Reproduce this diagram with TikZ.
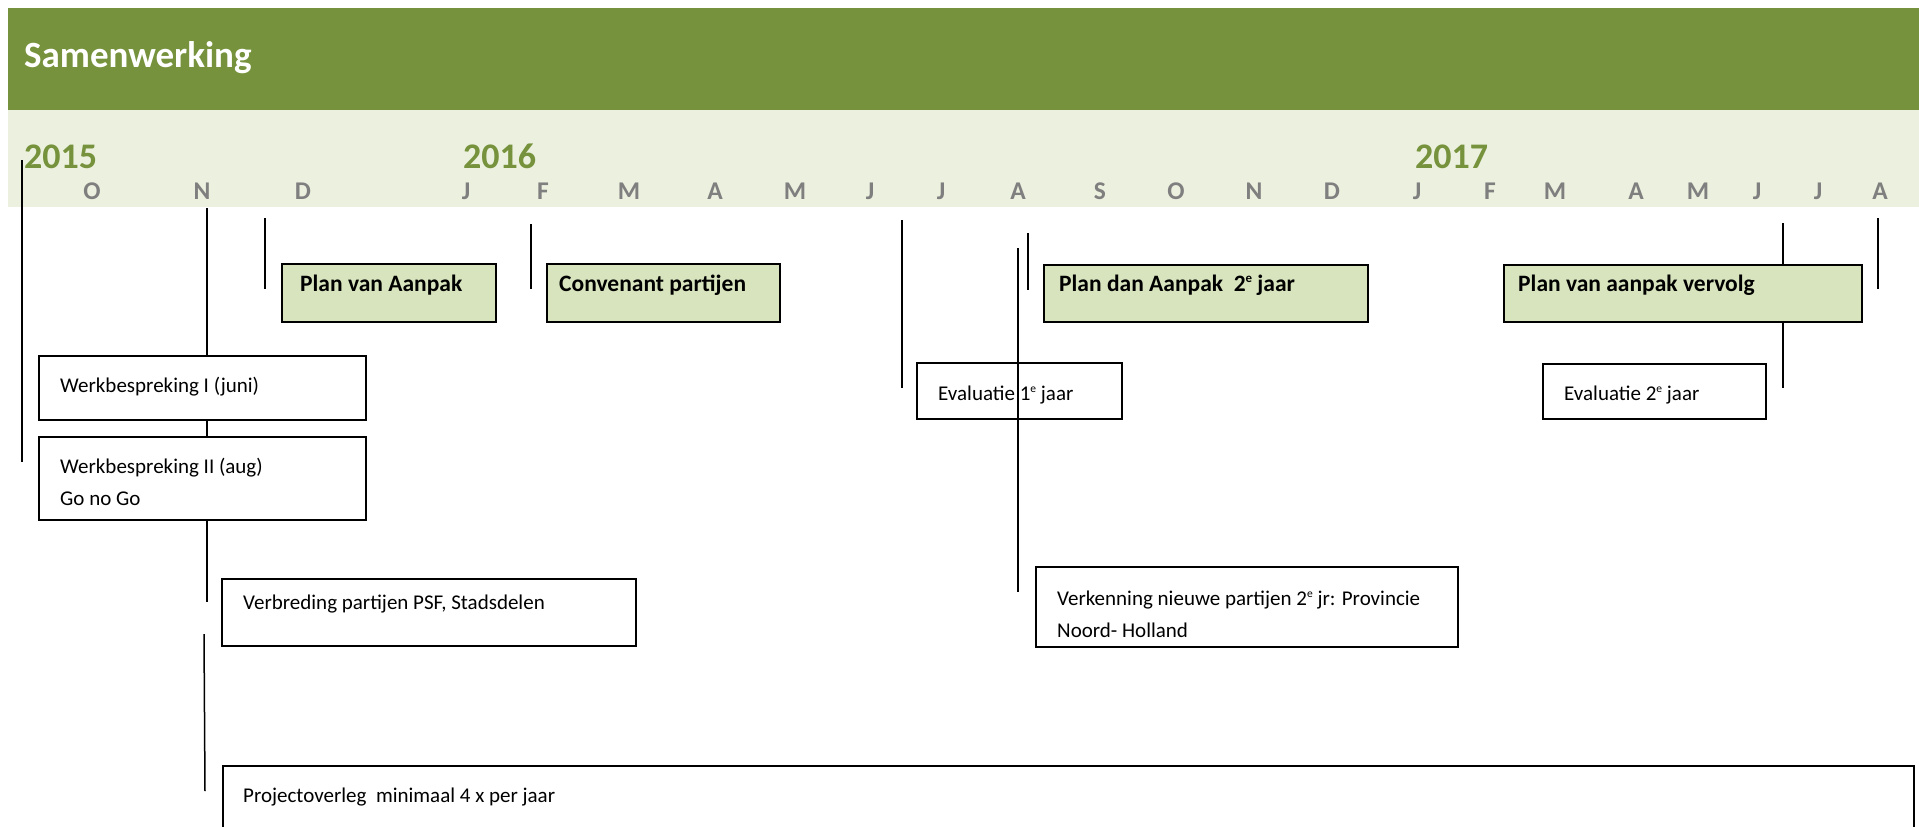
\documentclass[tikz,border=0pt]{standalone}
\usepackage{fontspec}
\setmainfont{Carlito}
\definecolor{olive}{HTML}{76923C}
\definecolor{palegreen}{HTML}{EBF1DE}
\definecolor{boxgreen}{HTML}{D7E4BD}
\definecolor{monthgray}{HTML}{7F7F7F}
\newcommand{\ordsup}[1]{\raisebox{0.75ex}{\scalebox{0.55}{#1}}}

\begin{document}
\begin{tikzpicture}[x=1pt,y=-1pt,
    mark line/.style={line width=1.5pt},
    plainbox/.style={draw,line width=1.5pt,fill=white},
    greenbox/.style={draw,line width=1.5pt,fill=boxgreen},
    txt/.style={anchor=base west,inner sep=0pt,font=\fontsize{21}{25}\selectfont},
    boldtxt/.style={anchor=base west,inner sep=0pt,font=\fontsize{23.5}{27}\selectfont\bfseries},
    yeartxt/.style={anchor=base west,inner sep=0pt,text=olive,font=\fontsize{36}{40}\selectfont\bfseries},
    monthtxt/.style={anchor=base,inner sep=0pt,text=monthgray,font=\fontsize{25.5}{28}\selectfont\bfseries}]
    \useasboundingbox (0,0) rectangle (1919,827);

    % Header
    \fill[olive] (8,8) rectangle (1919,110);
    \fill[palegreen] (8,110) rectangle (1919,207);
    \node[anchor=base west,inner sep=0pt,text=white,font=\fontsize{37}{42}\selectfont\bfseries] (title) at (24,67) {Samenwerking};

    % Years and months
    \node[yeartxt] (y2015) at (24,168) {2015};
    \node[yeartxt] (y2016) at (463,168) {2016};
    \node[yeartxt] (y2017) at (1415,168) {2017};
    \foreach \m/\x [count=\i] in {O/92,N/202,D/303,J/466,F/543,M/629,A/715,M/795,J/870,J/941,A/1018,S/1100,O/1176,N/1254,D/1332,J/1417,F/1490,M/1555,A/1636,M/1698,J/1757,J/1818,A/1880}
        \node[monthtxt] (m\i) at (\x,199.5) {\m};

    % Time markers (behind the boxes)
    \draw[mark line] (22,160) -- (22,462);
    \draw[mark line] (207,208) -- (207,602);
    \draw[mark line] (204,634) -- (205,791);
    \draw[mark line] (265,218) -- (265,289);
    \draw[mark line] (531,224) -- (531,289);
    \draw[mark line] (902,220) -- (902,388);
    \draw[mark line] (1028,233) -- (1028,290);
    \draw[mark line] (1783,223) -- (1783,388);
    \draw[mark line] (1878,218) -- (1878,289);

    % Boxes
    \draw[greenbox] (282,264) rectangle (496,322);
    \draw[greenbox] (547,264) rectangle (780,322);
    \draw[greenbox] (1044,265) rectangle (1368,322);
    \draw[greenbox] (1504,265) rectangle (1862,322);
    \draw[plainbox] (39,356) rectangle (366,420);
    \draw[plainbox] (39,437) rectangle (366,520);
    \draw[plainbox] (917,363) rectangle (1122,419);
    \draw[plainbox] (1543,364) rectangle (1766,419);
    \draw[plainbox] (222,579) rectangle (636,646);
    \draw[plainbox] (1036,567) rectangle (1458,647);
    \draw[line width=1.5pt] (223,840) |- (1914,766) -- (1914,840);

    % Marker over the evaluation box
    \draw[mark line] (1018,248) -- (1018,592);

    % Labels
    \node[boldtxt] (pva) at (300,291) {Plan van Aanpak};
    \node[boldtxt] (conv) at (559,291) {Convenant partijen};
    \node[boldtxt] (pda) at (1059,291) {Plan dan Aanpak\ \ 2\ordsup{e} jaar};
    \node[boldtxt] (pvav) at (1518,291) {Plan van aanpak vervolg};
    \node[txt] (wb1) at (60,392) {Werkbespreking I (juni)};
    \node[txt] (wb2) at (60,473) {Werkbespreking II (aug)};
    \node[txt] (gng) at (60,505) {Go no Go};
    \node[txt] (ev1) at (938,400) {Evaluatie 1\ordsup{e} jaar};
    \node[txt] (ev2) at (1564,400) {Evaluatie 2\ordsup{e} jaar};
    \node[txt] (verb) at (243,609) {Verbreding partijen PSF, Stadsdelen};
    \node[txt] (verk) at (1057,605) {Verkenning nieuwe partijen 2\ordsup{e} jr: Provincie};
    \node[txt] (nh) at (1057,637) {Noord- Holland};
    \node[txt] (proj) at (243,802) {Projectoverleg\ \ minimaal 4 x per jaar};
\end{tikzpicture}
\end{document}
